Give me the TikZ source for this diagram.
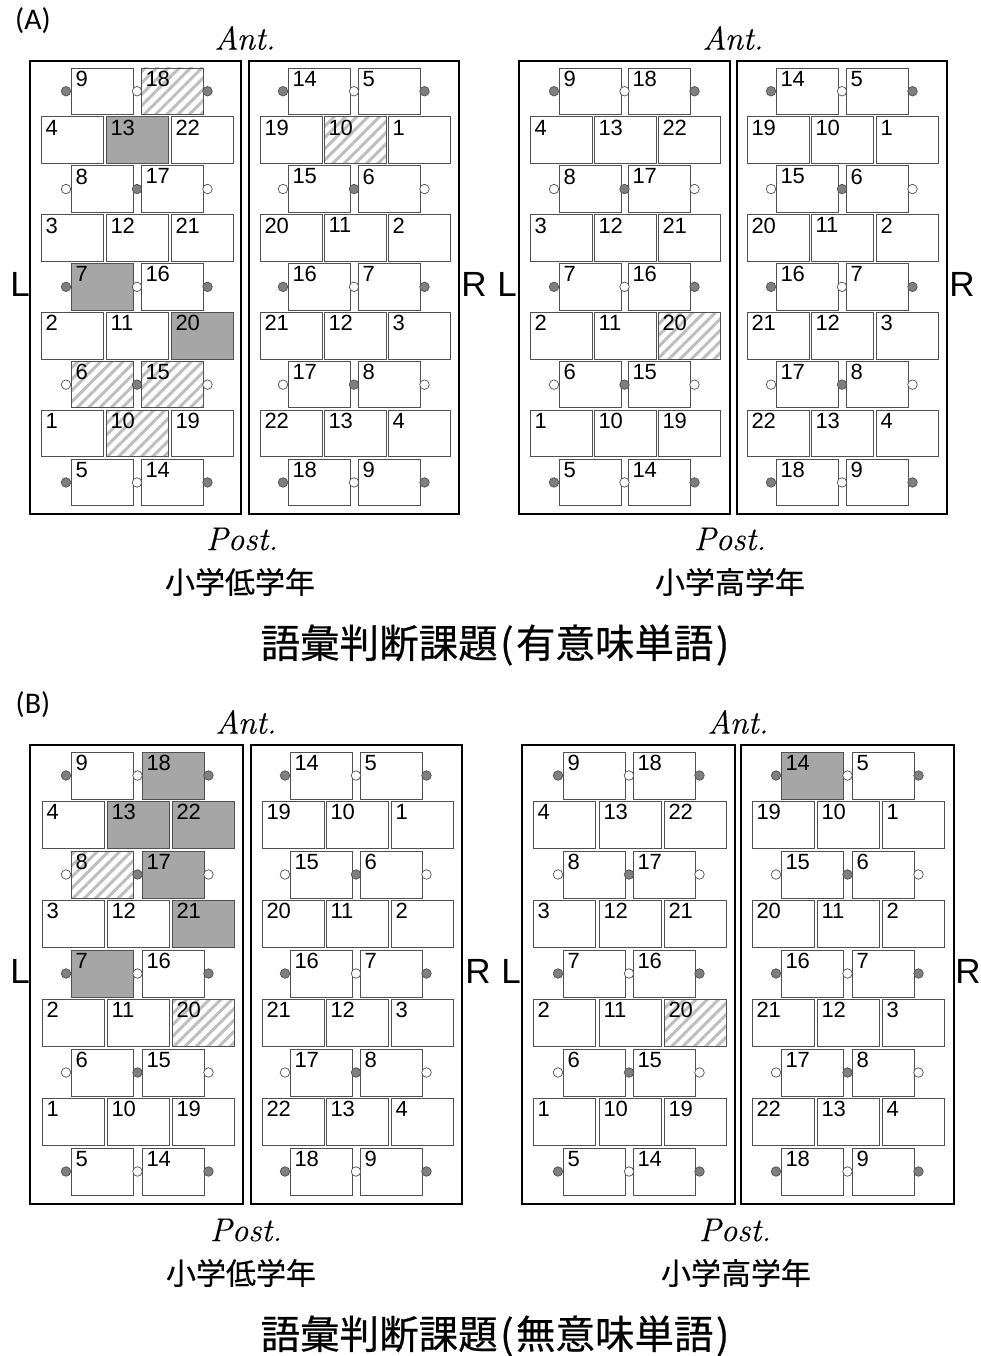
\documentclass[tikz,border=0pt]{standalone}
\usepackage{fontspec}
\newfontfamily\arialf{Liberation Sans}
\newfontfamily\calib{Carlito}
\newfontfamily\cjk[FakeBold=0.5]{Noto Sans CJK JP}
\newfontfamily\dirf[FakeBold=0.3]{Latin Modern Roman}
\usepackage{xcolor}
\usetikzlibrary{calc,patterns.meta}

\definecolor{cellline}{HTML}{505050}
\definecolor{cellgray}{HTML}{A6A6A6}
\definecolor{stripe}{HTML}{BEBEBE}
\definecolor{elecgray}{HTML}{7F7F7F}

\tikzset{
  cell/.style={draw=cellline,line width=0.9pt,minimum width=62pt,inner sep=0pt,outer sep=0pt,anchor=north west},
  cellnum/.style={anchor=north west,inner xsep=4.5pt,inner ysep=3pt,outer sep=0pt,font=\arialf\fontsize{22}{24}\selectfont},
  graycell/.style={fill=cellgray},
  hatchcell/.style={pattern={Lines[angle=45,distance=8pt,line width=3pt]},pattern color=stripe},
  elec/.style={circle,draw=cellline,line width=0.7pt,minimum size=9.5pt,inner sep=0pt},
  elecg/.style={elec,fill=elecgray},
  elecw/.style={elec,fill=white},
  frame/.style={draw=black,line width=1.5pt},
  dirlab/.style={font=\dirf\itshape\fontsize{33}{35}\selectfont},
  sidelab/.style={font=\arialf\fontsize{35}{36}\selectfont},
  agelab/.style={font=\cjk\fontsize{30}{32}\selectfont},
  tasklab/.style={font=\cjk\fontsize{39.5}{42}\selectfont},
  panellab/.style={font=\calib\fontsize{30}{32}\selectfont},
  % shaded channels, one key per frame and number
  aa-18/.style=hatchcell,aa-13/.style=graycell,aa-7/.style=graycell,aa-20/.style=graycell,
  aa-6/.style=hatchcell,aa-15/.style=hatchcell,aa-10/.style=hatchcell,
  ab-10/.style=hatchcell,
  ac-20/.style=hatchcell,
  ba-18/.style=graycell,ba-13/.style=graycell,ba-22/.style=graycell,ba-17/.style=graycell,
  ba-21/.style=graycell,ba-7/.style=graycell,ba-8/.style=hatchcell,ba-20/.style=hatchcell,
  bc-20/.style=hatchcell,
  bd-14/.style=graycell,
}

\def\oddL{0/9/18/g/w/g,2/8/17/w/g/w,4/7/16/g/w/g,6/6/15/w/g/w,8/5/14/g/w/g}
\def\evenL{1/4/13/22,3/3/12/21,5/2/11/20,7/1/10/19}
\def\oddR{0/14/5/g/w/g,2/15/6/w/g/w,4/16/7/g/w/g,6/17/8/w/g/w,8/18/9/g/w/g}
\def\evenR{1/19/10/1,3/20/11/2,5/21/12/3,7/22/13/4}

% #1 frame id, #2 L or R, #3 #4 frame left and right, #5 #6 short rows, #7 #8 #9 long rows
\newcommand{\elecframe}[9]{
  \draw[frame] (#3,\frametop) rectangle (#4,\framebot);
  \expandafter\let\expandafter\oddlist\csname odd#2\endcsname
  \expandafter\let\expandafter\evenlist\csname even#2\endcsname
  \foreach \r/\a/\b/\ca/\cb/\cc in \oddlist {
    \pgfmathsetmacro{\ry}{\rowtop+\r*\rowstep}
    \node[cell,minimum height=\cellh pt,#1-\a/.try,label={[cellnum]north west:\a}] (#1-\a) at (#5,\ry) {};
    \node[cell,minimum height=\cellh pt,#1-\b/.try,label={[cellnum]north west:\b}] (#1-\b) at (#6,\ry) {};
    \node[elec\ca] (#1-e\a) at ([xshift=-5pt]#1-\a.west) {};
    \node[elec\cb] (#1-e\b) at ($(#1-\a.east)!0.5!(#1-\b.west)$) {};
    \node[elec\cc] (#1-f\b) at ([xshift=4.5pt]#1-\b.east) {};
  }
  \foreach \r/\a/\b/\c in \evenlist {
    \pgfmathsetmacro{\ry}{\rowtop+\r*\rowstep}
    \node[cell,minimum height=\cellh pt,#1-\a/.try,label={[cellnum]north west:\a}] (#1-\a) at (#7,\ry) {};
    \node[cell,minimum height=\cellh pt,#1-\b/.try,label={[cellnum]north west:\b}] (#1-\b) at (#8,\ry) {};
    \node[cell,minimum height=\cellh pt,#1-\c/.try,label={[cellnum]north west:\c}] (#1-\c) at (#9,\ry) {};
  }
}

\begin{document}
\begin{tikzpicture}[x=1pt,y=-1pt]
  \useasboundingbox (0,0) rectangle (981,1356);

  % (A)
  \def\frametop{61}\def\framebot{514}\def\rowtop{68}\def\rowstep{48.9}\def\cellh{46.5}
  \elecframe{aa}{L}{30}{241}{71}{141}{41}{106}{171}
  \elecframe{ab}{R}{249}{459}{288}{358}{260}{324}{388}
  \elecframe{ac}{L}{519}{730}{559}{628}{530}{594}{658}
  \elecframe{ad}{R}{737}{947}{776}{846}{747}{811}{876}
  \node[panellab] (panA) at (33,21) {(A)};
  \node[dirlab] (antA1) at (245,38) {Ant.};
  \node[dirlab] (antA2) at (733,38) {Ant.};
  \node[dirlab] (postA1) at (242,539) {Post.};
  \node[dirlab] (postA2) at (730,539) {Post.};
  \node[sidelab] (lA1) at (20,284) {L};
  \node[sidelab] (rA1) at (474,284) {R};
  \node[sidelab] (lA2) at (507,284) {L};
  \node[sidelab] (rA2) at (962,284) {R};
  \node[agelab] (ageA1) at (240,582) {小学低学年};
  \node[agelab] (ageA2) at (730,582) {小学高学年};
  \node[tasklab] (taskA) at (495,645) {語彙判断課題\kern2.5pt(\kern2.5pt有意味単語\kern2.5pt)};

  % (B)
  \def\frametop{745}\def\framebot{1204}\def\rowtop{752}\def\rowstep{49.5}\def\cellh{47}
  \elecframe{ba}{L}{30}{243}{71}{142}{42}{107}{172}
  \elecframe{bb}{R}{251}{462}{290}{360}{262}{326}{391}
  \elecframe{bc}{L}{522}{735}{563}{633}{533}{599}{664}
  \elecframe{bd}{R}{741}{954}{781}{852}{752}{817}{882}
  \node[panellab] (panB) at (33,705) {(B)};
  \node[dirlab] (antB1) at (246,722) {Ant.};
  \node[dirlab] (antB2) at (738,722) {Ant.};
  \node[dirlab] (postB1) at (246,1230) {Post.};
  \node[dirlab] (postB2) at (735,1230) {Post.};
  \node[sidelab] (lB1) at (20,971) {L};
  \node[sidelab] (rB1) at (478,971) {R};
  \node[sidelab] (lB2) at (511,971) {L};
  \node[sidelab] (rB2) at (968,971) {R};
  \node[agelab] (ageB1) at (241,1273) {小学低学年};
  \node[agelab] (ageB2) at (736,1273) {小学高学年};
  \node[tasklab] (taskB) at (495,1336) {語彙判断課題\kern2.5pt(\kern2.5pt無意味単語\kern2.5pt)};
\end{tikzpicture}
\end{document}
